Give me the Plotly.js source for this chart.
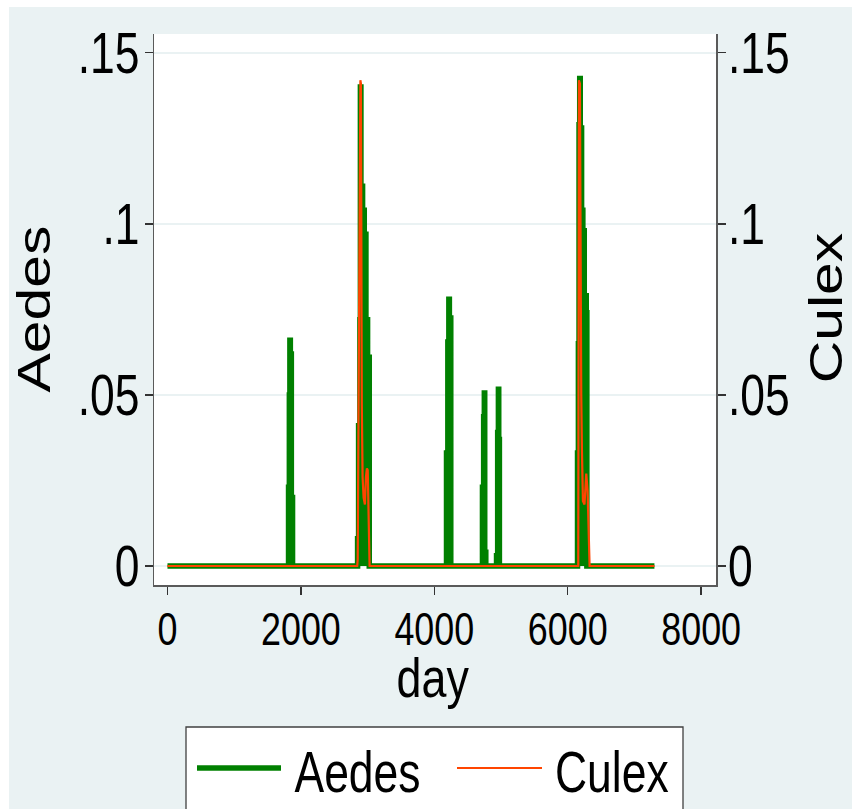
<!DOCTYPE html>
<html><head><meta charset="utf-8">
<script src="https://cdn.plot.ly/plotly-3.0.1.min.js"></script>
<style>
html,body{margin:0;padding:0;background:#ffffff;width:852px;height:809px;overflow:hidden;}
#chart{position:absolute;left:9px;top:7px;width:843px;height:802px;}
</style></head><body><div id="chart"></div>
<script>
// ---- data (Aedes is a step series: value holds until the next day listed) ----
const seriesNames = ['Aedes', 'Culex'];
const aedesDay = [0, 1815, 1827, 1835, 1842, 1857, 1875,
  2850, 2865, 2885, 2892, 2900, 2925, 2950, 2975, 3000, 3025,
  4183, 4203, 4218, 4226, 4247,
  4722, 4740, 4750, 4756, 4772,
  4933, 4950, 4961, 4966, 4976,
  6147, 6160, 6170, 6180, 6188, 6208, 6227, 6248, 6278, 6287,
  7300];
const aedesVal = [0, 0.023, 0.050, 0.066, 0.062, 0.020, 0,
  0.008, 0.041, 0.072, 0.140, 0.111, 0.104, 0.097, 0.072, 0.061, 0,
  0.033, 0.0655, 0.078, 0.0725, 0,
  0.023, 0.0436, 0.0506, 0.004, 0,
  0.003, 0.039, 0.0517, 0.037, 0,
  0.033, 0.065, 0.129, 0.1425, 0.128, 0.104, 0.098, 0.079, 0.074, 0,
  0];
const culexDay = [0, 2845, 2852, 2892, 2900, 2913, 2925, 2940, 2960, 2975, 2990, 3002, 3015, 3030,
  6158, 6168, 6183, 6192, 6203, 6213, 6228, 6252, 6278, 6298, 6313, 6328, 7300];
const culexVal = [0, 0, 0.002, 0.142, 0.141, 0.0475, 0.026, 0.020, 0.018, 0.026, 0.0285, 0.028, 0.012, 0,
  0, 0.142, 0.141, 0.076, 0.050, 0.034, 0.019, 0.018, 0.027, 0.022, 0.005, 0, 0];
const yTickVals = [0, 0.05, 0.1, 0.15];
const yTickText = ['0', '.05', '.1', '.15'];
const xTickVals = [0, 2000, 4000, 6000, 8000];
const xTickText = ['0', '2000', '4000', '6000', '8000'];
const xTitle = 'day';

// ---- styling ----
const FONT = "'Liberation Sans', Arial, sans-serif";
const BG = '#eaf2f3';
const GREEN = '#008000';
const ORANGE = '#ff4500';
const AXC = '#5a5a5a';
const SQ = 0.78;           // horizontal squeeze of upright text (reference is stretched vertically)
const FS_YT = 57, FS_XT = 46, FS_TITLE = 46, FS_XTITLE = 56, FS_LEG = 57;

const traces = [
  {x: aedesDay, y: aedesVal, name: seriesNames[0], type: 'scatter', mode: 'lines',
   line: {color: GREEN, width: 5.5, shape: 'hv'}, fill: 'tozeroy', fillcolor: GREEN,
   yaxis: 'y', showlegend: false, hoverinfo: 'x+y+name'},
  {x: culexDay, y: culexVal, name: seriesNames[1], type: 'scatter', mode: 'lines',
   line: {color: ORANGE, width: 2.2}, yaxis: 'y2', showlegend: false, hoverinfo: 'x+y+name'}
];

const yCommon = {
  range: [-0.00555, 0.1555], tickvals: yTickVals, ticktext: yTickText,
  ticks: 'outside', ticklen: 8, tickwidth: 1.3, tickcolor: '#333',
  tickfont: {family: FONT, size: FS_YT, color: '#000'},
  showline: true, linecolor: AXC, linewidth: 1.5, zeroline: false, fixedrange: true
};

const W = 562, H = 551, L = 145, T = 27, FW = 843, FH = 802;
const px = v => (v - 9 - L) / W;
const py = v => (T + H - (v - 7)) / H;

const layout = {
  width: FW, height: FH,
  margin: {l: L, r: FW - L - W, t: T, b: FH - T - H, pad: 0},
  paper_bgcolor: BG, plot_bgcolor: '#ffffff',
  showlegend: false,
  xaxis: {
    range: [-202, 8223], tickvals: xTickVals, ticktext: xTickText,
    ticks: 'outside', ticklen: 8, tickwidth: 1.3, tickcolor: '#333',
    tickfont: {family: FONT, size: FS_XT, color: '#000'},
    showline: true, linecolor: AXC, linewidth: 1.5, showgrid: false, zeroline: false, fixedrange: true,
    title: {text: xTitle, font: {family: FONT, size: FS_XTITLE, color: '#000'}, standoff: 0}
  },
  yaxis: Object.assign({}, yCommon, {
    side: 'left', showgrid: true, gridcolor: BG, gridwidth: 2,
    title: {text: seriesNames[0], font: {family: FONT, size: FS_TITLE, color: '#000'}, standoff: 10}
  }),
  yaxis2: Object.assign({}, yCommon, {
    side: 'right', overlaying: 'y', showgrid: false,
    title: {text: seriesNames[1], font: {family: FONT, size: FS_TITLE, color: '#000'}, standoff: 10}
  }),
  shapes: [
    {type: 'rect', xref: 'paper', yref: 'paper', x0: px(186), x1: px(683), y0: py(727), y1: py(830),
     fillcolor: '#ffffff', line: {color: '#404040', width: 1.3}, layer: 'above'},
    {type: 'line', xref: 'paper', yref: 'paper', x0: px(197), x1: px(281), y0: py(768), y1: py(768),
     line: {color: GREEN, width: 5.5}, layer: 'above'},
    {type: 'line', xref: 'paper', yref: 'paper', x0: px(457), x1: px(542), y0: py(768), y1: py(768),
     line: {color: ORANGE, width: 2.2}, layer: 'above'}
  ],
  annotations: [
    {text: seriesNames[0], xref: 'paper', yref: 'paper', x: px(293), y: py(770), xanchor: 'left', yanchor: 'middle',
     showarrow: false, font: {family: FONT, size: FS_LEG, color: '#000'}},
    {text: seriesNames[1], xref: 'paper', yref: 'paper', x: px(555), y: py(770), xanchor: 'left', yanchor: 'middle',
     showarrow: false, font: {family: FONT, size: FS_LEG, color: '#000'}}
  ]
};

// scale a text element about its anchor, then move it so its box lands on a target (page px)
function xform(el, sx, sy, dx, dy) {
  let orig = el.getAttribute('data-orig');
  if (orig === null) { orig = el.getAttribute('transform') || ''; el.setAttribute('data-orig', orig); }
  const x = +el.getAttribute('x') || 0, y = +el.getAttribute('y') || 0;
  el.setAttribute('transform',
    `translate(${dx},${dy}) ${orig} translate(${x},${y}) scale(${sx},${sy}) translate(${-x},${-y})`);
}
function fit(el, sx, sy, o) {
  xform(el, sx, sy, 0, 0);
  const r = el.getBoundingClientRect();
  let dx = 0, dy = 0;
  if (o.left !== undefined) dx = o.left - r.left;
  if (o.right !== undefined) dx = o.right - r.right;
  if (o.cx !== undefined) dx = o.cx - (r.left + r.right) / 2;
  if (o.cy !== undefined) dy = o.cy - (r.top + r.bottom) / 2;
  if (o.baseline !== undefined) dy = o.baseline - (r.bottom - 0.212 * o.fs);
  if (o.vbase !== undefined) dx = o.vbase - (r.right - 0.212 * o.fs);
  xform(el, sx, sy, dx, dy);
}

Plotly.newPlot('chart', traces, layout, {displayModeBar: false, staticPlot: true}).then(gd => {
  gd.querySelectorAll('g.ytick text').forEach(t => fit(t, SQ, 1, {right: 139.5}));
  gd.querySelectorAll('g.y2tick text').forEach(t => fit(t, SQ, 1, {left: 728}));
  gd.querySelectorAll('g.xtick text').forEach(t => {
    const r0 = t.getBoundingClientRect();
    fit(t, SQ, 1, {cx: (r0.left + r0.right) / 2, baseline: 645, fs: FS_XT});
  });
  const yt = gd.querySelector('text.ytitle');
  if (yt) fit(yt, 1.28, 1, {vbase: 50, cy: 309, fs: FS_TITLE});
  const y2t = gd.querySelector('text.y2title');
  if (y2t) fit(y2t, 1.28, 1, {vbase: 841.5, cy: 308, fs: FS_TITLE});
  const xt = gd.querySelector('text.xtitle');
  if (xt) fit(xt, 0.8, 1, {cx: 433, baseline: 697, fs: FS_XTITLE});
  const ann = gd.querySelectorAll('text.annotation-text');
  if (ann[0]) fit(ann[0], SQ, 1, {left: 294.5, baseline: 792, fs: FS_LEG});
  if (ann[1]) fit(ann[1], SQ, 1, {left: 555, baseline: 792, fs: FS_LEG});
});
</script></body></html>
